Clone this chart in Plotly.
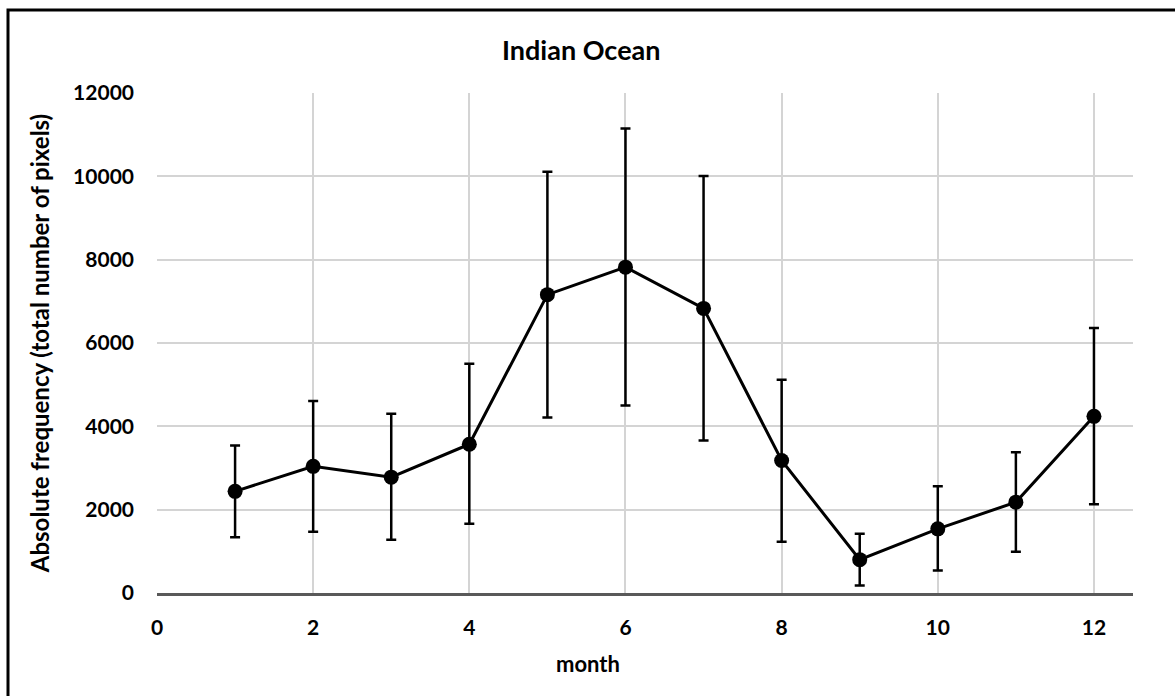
import plotly.graph_objects as go

months = list(range(1, 13))
mean_freq = [2440, 3040, 2780, 3570, 7160, 7820, 6830, 3180, 800, 1540, 2180, 4240]
upper_freq = [3540, 4610, 4300, 5500, 10110, 11150, 10010, 5120, 1420, 2560, 3380, 6360]
lower_freq = [1340, 1470, 1280, 1660, 4210, 4500, 3660, 1230, 180, 540, 990, 2130]

x_ticks = [0, 2, 4, 6, 8, 10, 12]
y_ticks = [0, 2000, 4000, 6000, 8000, 10000, 12000]

err_plus = [u - m for u, m in zip(upper_freq, mean_freq)]
err_minus = [m - l for m, l in zip(mean_freq, lower_freq)]

FONT = "Lato"
W, H = 1175, 696
L, R, T, B = 157, 42, 93, 103
pw, ph = W - L - R, H - T - B

fig = go.Figure()
fig.add_trace(go.Scatter(
    x=months, y=mean_freq, mode="lines+markers",
    line=dict(color="black", width=3),
    marker=dict(color="black", size=15),
    error_y=dict(type="data", array=err_plus, arrayminus=err_minus,
                 color="black", thickness=2.5, width=5),
    showlegend=False,
))

fig.update_layout(
    width=W, height=H,
    margin=dict(l=L, r=R, t=T, b=B),
    paper_bgcolor="white", plot_bgcolor="white",
    font=dict(family=FONT, color="black"),
    annotations=[
        dict(text="<b>Indian Ocean</b>", xref="paper", yref="paper",
             x=(581 - L) / pw, y=(H - B - 50) / ph, xanchor="center", yanchor="middle",
             showarrow=False, font=dict(family=FONT, size=27, color="black")),
        dict(text="<b>month</b>", xref="paper", yref="paper",
             x=(588 - L) / pw, y=(H - B - 663) / ph, xanchor="center", yanchor="middle",
             showarrow=False, font=dict(family=FONT, size=22, color="black")),
    ],
    shapes=[
        dict(type="rect", xref="paper", yref="paper",
             x0=(8 - L) / pw, x1=1.2, y0=-0.4, y1=(H - B - 10) / ph,
             line=dict(color="black", width=3), fillcolor="rgba(0,0,0,0)", layer="above"),
    ],
)

fig.update_xaxes(
    range=[0, 12.5], tickvals=x_ticks, ticktext=[f"<b>{v}</b>" for v in x_ticks],
    showgrid=True, gridcolor="#d4d4d4", gridwidth=1.5,
    showline=True, linecolor="#595959", linewidth=2.5,
    zeroline=False, ticks="", ticklabelstandoff=14,
    tickfont=dict(family=FONT, size=21, color="black"),
)
fig.update_yaxes(
    range=[0, 12000], tickvals=y_ticks, ticktext=[f"<b>{v}</b>" for v in y_ticks],
    showgrid=True, gridcolor="#d4d4d4", gridwidth=1.5,
    showline=False, zeroline=False, ticks="", ticklabelstandoff=22,
    tickfont=dict(family=FONT, size=21, color="black"),
    title=dict(text="<b>Absolute frequency (total number of pixels)</b>",
               font=dict(family=FONT, size=24, color="black"), standoff=16),
)

fig.write_html("out.html")
